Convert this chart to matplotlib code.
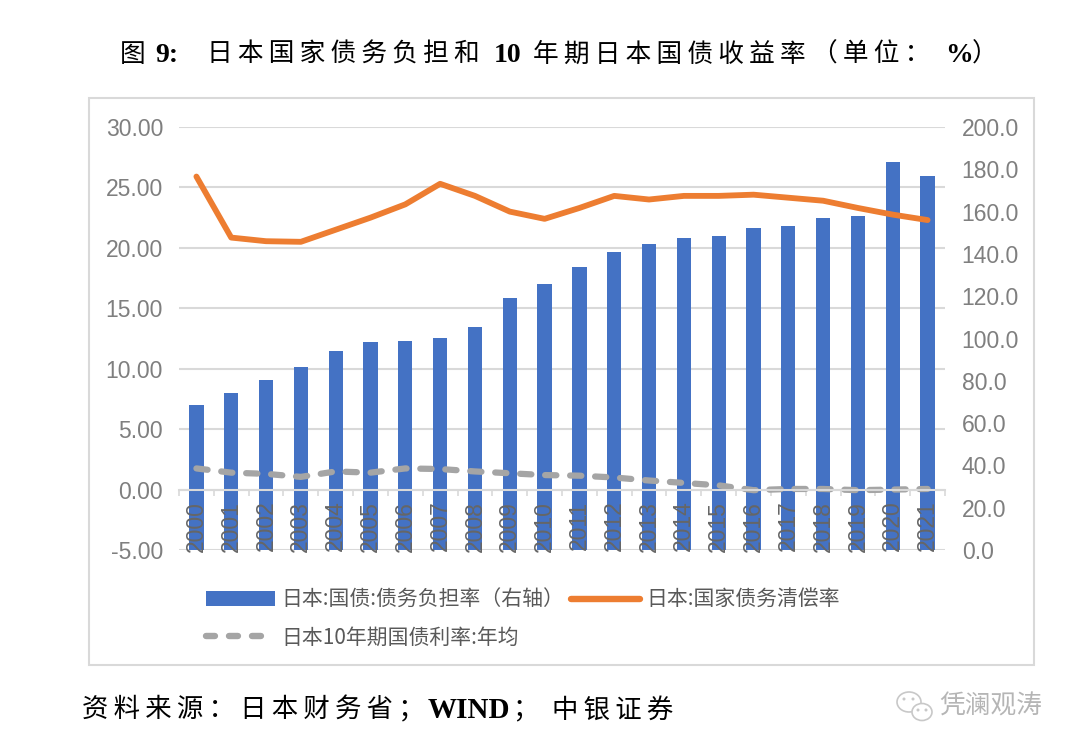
import numpy as np
import matplotlib
matplotlib.use('Agg')
import matplotlib.pyplot as plt
from matplotlib.patches import Rectangle, Ellipse
from matplotlib.lines import Line2D

CJK = ['Noto Sans CJK SC', 'DejaVu Sans']
LAT = ['Liberation Sans', 'Noto Sans CJK SC']
SERIF = ['Liberation Serif', 'Noto Sans CJK SC']

years = [str(y) for y in range(2000, 2022)]
debt_burden = [68.6, 74.2, 80.4, 86.5, 94.1, 98.3, 98.8, 100.2, 105.4, 119.1, 125.8,
               133.8, 140.9, 144.7, 147.5, 148.5, 152.2, 153.2, 157.0, 158.0, 183.4, 176.8]
service_rate = [25.9, 20.85, 20.55, 20.5, 21.5, 22.5, 23.6, 25.3, 24.3, 23.0, 22.4,
                23.3, 24.3, 24.0, 24.3, 24.3, 24.4, 24.15, 23.9, 23.3, 22.75, 22.3]
jgb_10y = [1.75, 1.4, 1.3, 1.05, 1.5, 1.4, 1.75, 1.7, 1.5, 1.35, 1.2,
           1.15, 1.0, 0.75, 0.55, 0.35, -0.05, 0.05, 0.05, -0.05, 0.0, 0.05]
left_ticks = [-5, 0, 5, 10, 15, 20, 25, 30]
right_ticks = list(range(0, 201, 20))

W, H = 1080, 754
GREY = '#7f7f7f'
GRID = '#d9d9d9'

fig = plt.figure(figsize=(W / 100, H / 100), dpi=100, facecolor='white')

# overlay in pixel coords for frame, title, source, watermark
bg = fig.add_axes([0, 0, 1, 1], zorder=0)
bg.set_xlim(0, W); bg.set_ylim(H, 0); bg.axis('off')
bg.add_patch(Rectangle((89, 98), 945, 567, fc='white', ec='#d9d9d9', lw=1.5))

x = np.arange(len(years))
rect = [179 / W, 1 - 550 / H, 766 / W, 423 / H]

ax = fig.add_axes(rect, zorder=1)
ax.patch.set_visible(False)
ax.set_xlim(-0.5, 21.5); ax.set_ylim(-5, 30)
ax.set_yticks(left_ticks, [f'{v:.2f}' for v in left_ticks], fontsize=16.5, color=GREY, family=LAT)
ax.tick_params(axis='y', length=0, pad=11.5)
ax.set_xticks([])
ax.grid(axis='y', color=GRID, lw=1.5)
for s in ax.spines.values():
    s.set_visible(False)

ax_r = ax.twinx()
ax_r.set_zorder(2); ax_r.patch.set_visible(False)
ax_r.set_ylim(0, 200)
bars = ax_r.bar(x, debt_burden, width=0.41, color='#4472c4')
ax_r.set_yticks(right_ticks, [f'{v:.1f}' for v in right_ticks], fontsize=16.5, color=GREY, family=LAT)
ax_r.tick_params(axis='y', length=0, pad=12)
for s in ax_r.spines.values():
    s.set_visible(False)

# lines and the category axis sit on top of the bars
ax_l = fig.add_axes(rect, zorder=3)
ax_l.patch.set_visible(False)
ax_l.set_xlim(-0.5, 21.5); ax_l.set_ylim(-5, 30)
ax_l.set_yticks([])
for k, s in ax_l.spines.items():
    s.set_visible(k == 'bottom')
ax_l.spines['bottom'].set_position(('data', 0))
ax_l.spines['bottom'].set_color(GRID)
ax_l.spines['bottom'].set_linewidth(1.5)
ax_l.set_xticks(np.arange(-0.5, 22, 1))
ax_l.set_xticklabels([])
ax_l.tick_params(axis='x', which='major', length=4, width=1.2, color=GRID)
ax_l.set_xticks(x, years, minor=True, rotation=90, fontsize=16.5, color='#666666', family=LAT)
ax_l.tick_params(axis='x', which='minor', length=0, pad=8)
ax_l.plot(x, service_rate, color='#ed7d31', lw=4.2, solid_capstyle='round', solid_joinstyle='round')
ax_l.plot(x, jgb_10y, color='#a5a5a5', lw=4.5, dashes=(1.8, 2.2), dash_capstyle='round')

handles = [Rectangle((0, 0), 1, 1, fc='#4472c4'),
           Line2D([], [], color='#a5a5a5', lw=4.6, dashes=(1.4, 2.2), dash_capstyle='round'),
           Line2D([], [], color='#ed7d31', lw=4.6, solid_capstyle='round')]
labels = ['日本:国债:债务负担率（右轴）', '日本10年期国债利率:年均', '日本:国家债务清偿率']
leg = fig.legend(handles, labels, ncol=2, frameon=False, loc='upper left',
                 bbox_to_anchor=(206 / W, 1 - 589 / H), borderaxespad=0, borderpad=0,
                 prop={'family': CJK, 'size': 15}, labelcolor='#595959',
                 handlelength=3.3, handletextpad=0.3, columnspacing=0.36, labelspacing=0.75)

t_kw = dict(ha='left', va='center', color='black')
hs = '\u2009'
# title pieces, spread out the way the original typesetting does
bg.text(120, 55, '图', family=CJK, fontsize=18.5, weight='medium', **t_kw)
bg.text(155, 55, '9:', family=SERIF, fontsize=20, weight='bold', **t_kw)
bg.text(207, 55, hs.join('日本国家债务负担和'), family=CJK, fontsize=18.5, weight='medium', **t_kw)
bg.text(494, 55, '10', family=SERIF, fontsize=20, weight='bold', **t_kw)
bg.text(533, 55, hs.join('年期日本国债收益率'), family=CJK, fontsize=18.5, weight='medium', **t_kw)
bg.text(812, 55, hs.join('（单位：'), family=CJK, fontsize=18.5, weight='medium', **t_kw)
bg.text(945, 55, '%', family=SERIF, fontsize=20, weight='bold', **t_kw)
bg.text(972, 55, '）', family=CJK, fontsize=18.5, weight='medium', **t_kw)

# source line
bg.text(82, 710, hs.join('资料来源：日本财务省；'), family=CJK, fontsize=19, weight='medium', **t_kw)
bg.text(428, 710, 'WIND', family=SERIF, fontsize=21, weight='bold', **t_kw)
bg.text(512, 710, '；', family=CJK, fontsize=19, weight='medium', **t_kw)
bg.text(552, 710, hs.join('中银证券'), family=CJK, fontsize=19, weight='medium', **t_kw)

# watermark
bg.add_patch(Ellipse((909, 702), 24, 20, fc='none', ec='#c8c8c8', lw=1.2))
bg.add_patch(Ellipse((922, 712), 20, 17, fc='white', ec='#c8c8c8', lw=1.2))
for ex, ey in [(904, 699), (913, 699), (918, 710), (926, 710)]:
    bg.add_patch(Ellipse((ex, ey), 3, 3, fc='#c8c8c8', ec='none'))
bg.text(939, 707, '凭澜观涛', family=CJK, fontsize=18.5, color='#b5b5b5', ha='left', va='center')

fig.savefig('out.png', dpi=100)
